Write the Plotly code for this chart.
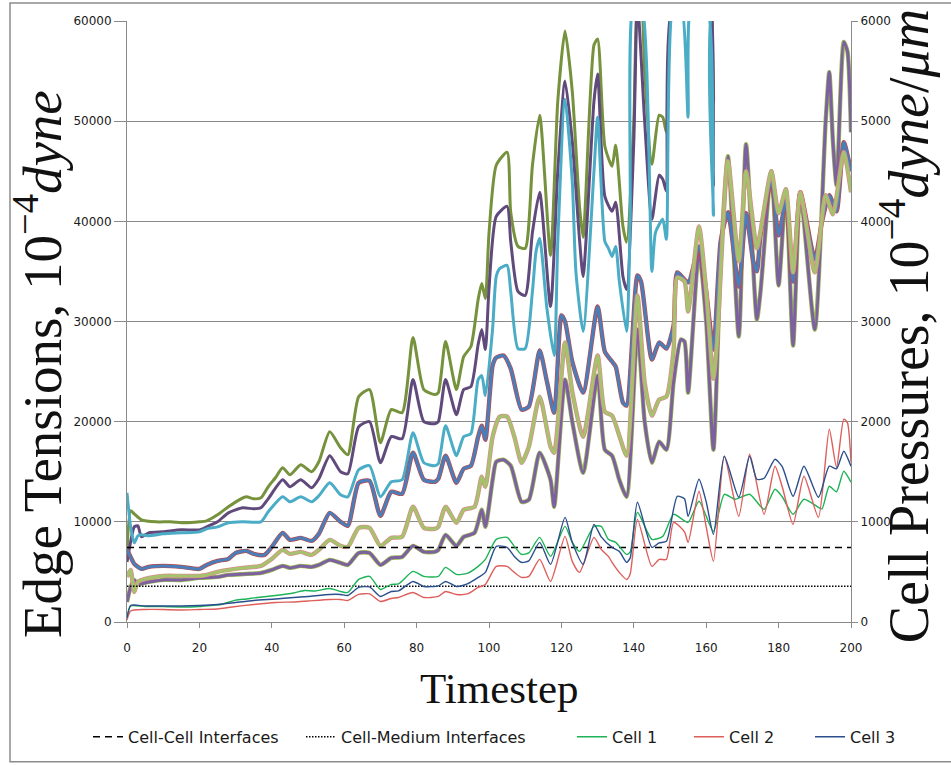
import plotly.graph_objects as go

# ---------------------------------------------------------------
# Edge tensions (left axis, 10^-4 dyne): (timestep, tension) pairs
# ---------------------------------------------------------------
edge_olive = [(0, 7000), (1, 11100), (2, 10800), (4, 10200), (8, 10000), (12, 10000), (16, 9900), (20, 10000),
              (22, 10100), (25, 10700), (28, 11500), (31, 12200), (33, 12500), (35, 12300), (37, 12400),
              (39, 13500), (41, 14400), (43, 15400), (45, 14700), (48, 15700), (51, 15000), (53, 16000),
              (56, 19000), (59, 17400), (61, 16700), (64, 22500), (67, 23200), (70, 17900), (73, 21200),
              (76, 20900), (79, 28400), (82, 23200), (85, 22700), (86, 22900), (88, 28000), (91, 23200),
              (93, 26500), (95, 27500), (97, 32200), (98, 33800), (99, 32300), (100, 38800), (102, 45600),
              (105, 46900), (106, 40900), (108, 37500), (110, 37300), (112, 45600), (114, 50600), (117, 36600),
              (119, 52000), (121, 59000), (123, 53000), (125, 41500), (126, 38400), (129, 57600), (130, 58200),
              (132, 47500), (134, 45500), (135, 47600), (137, 39500), (138, 37900), (140, 50000), (141, 62000),
              (142, 63000), (143, 55000), (145, 45700), (147, 50600), (148, 50400), (149, 48900), (151, 62000),
              (160, 65000), (162, 51900), (164, 66000), (200, 70000)]

edge_purple_hi = [(0, 6000), (1, 8000), (2, 9500), (3, 9600), (4, 8500), (6, 8900), (10, 9000), (15, 9200),
                  (20, 9200), (22, 9500), (25, 10000), (28, 10900), (32, 11400), (35, 11300), (37, 11400),
                  (39, 12300), (43, 14200), (45, 13500), (48, 14200), (51, 13400), (53, 14300), (56, 16600),
                  (59, 15000), (61, 14800), (64, 19500), (67, 20000), (70, 15900), (73, 18500), (76, 18300),
                  (79, 24200), (82, 20000), (85, 19800), (86, 20000), (88, 24200), (91, 20700), (93, 23200),
                  (95, 23500), (97, 27700), (98, 29200), (99, 27200), (100, 33300), (102, 40500), (105, 41500),
                  (106, 38000), (108, 33000), (110, 32600), (112, 38900), (114, 42900), (117, 31500),
                  (119, 45000), (121, 54000), (123, 48000), (125, 38200), (126, 34500), (129, 52000),
                  (130, 54700), (132, 42500), (134, 41000), (135, 41900), (137, 34500), (138, 33200),
                  (140, 48000), (141, 62000), (143, 50000), (145, 40200), (147, 44600), (148, 44200),
                  (149, 43000), (151, 62000), (160, 64000), (162, 43600), (164, 66000), (200, 70000)]

edge_aqua = [(0, 12900), (1, 9500), (2, 7900), (3, 8600), (4, 8700), (6, 8600), (10, 8800), (15, 8900), (20, 9000),
             (22, 9300), (25, 9500), (28, 9900), (32, 10000), (37, 10000), (39, 11000), (43, 12500), (45, 12000),
             (48, 12500), (51, 12000), (53, 12600), (56, 13900), (59, 12700), (61, 12500), (64, 15200),
             (67, 15600), (70, 12500), (73, 14000), (76, 14200), (79, 18900), (82, 15900), (85, 15600),
             (86, 15800), (88, 19600), (91, 16600), (93, 18500), (95, 18800), (97, 24200), (98, 24600),
             (99, 22600), (101, 29300), (102, 34500), (103, 35300), (105, 35600), (106, 33000), (108, 27300),
             (110, 27300), (112, 33000), (113, 37000), (114, 38300), (116, 31300), (118, 26600), (119, 38000),
             (121, 52200), (123, 44000), (124, 35000), (126, 29000), (129, 45000), (130, 50400), (132, 38000),
             (133, 37300), (134, 36500), (135, 37500), (136, 34000), (138, 29000), (139, 40000), (140, 62000),
             (142, 62000), (145, 35000), (146, 38900), (148, 40200), (149, 38200), (151, 62000), (153, 62000),
             (155, 50400), (156, 62000), (160, 62000), (162, 40600), (164, 66000), (200, 70000)]

edge_blue = [(0, 7200), (1, 6500), (2, 5800), (4, 5300), (6, 5500), (10, 5600), (15, 5500), (20, 5300), (22, 5700),
             (25, 6100), (28, 6300), (30, 6900), (33, 7100), (35, 6800), (38, 6700), (40, 7500), (43, 8900),
             (45, 8200), (48, 8400), (51, 8100), (53, 8800), (56, 10900), (59, 10000), (61, 9600), (64, 13900),
             (67, 14100), (70, 10600), (73, 13000), (76, 12800), (79, 16900), (82, 14200), (85, 14000),
             (86, 14300), (88, 16600), (91, 13900), (93, 15300), (95, 15600), (97, 18500), (98, 19600),
             (99, 18200), (101, 25600), (102, 26400), (104, 26600), (106, 25300), (109, 21200), (111, 21500),
             (114, 27100), (116, 24000), (118, 20900), (120, 30600), (121, 30000), (123, 26000), (126, 22900),
             (130, 31500), (132, 27000), (134, 26000), (135, 25500), (137, 21900), (138, 21600), (141, 34600),
             (142, 34000), (145, 26200), (147, 27900), (149, 27300), (151, 29600), (152, 34900), (155, 33900),
             (158, 37500), (160, 33000), (162, 27200), (164, 38000), (166, 40900), (169, 33500), (171, 40800),
             (173, 36000), (174, 35000), (175, 38600), (178, 44100), (180, 38600), (182, 42000), (184, 34000),
             (186, 42900), (190, 36200), (192, 40000), (194, 42600), (196, 41000), (198, 47900), (200, 45000)]

edge_lime = [(0, 4500), (1, 5200), (2, 3000), (3, 4000), (5, 4300), (10, 4600), (15, 4600), (20, 4600), (22, 4700),
             (25, 5000), (28, 5200), (32, 5400), (37, 5600), (40, 6300), (43, 7200), (45, 6800), (48, 7000),
             (51, 6700), (53, 7200), (56, 8200), (59, 7600), (61, 7500), (64, 9400), (67, 9400), (70, 7600),
             (73, 8400), (76, 8500), (79, 11500), (82, 9400), (85, 9300), (86, 9500), (88, 11500), (91, 9900),
             (93, 11200), (96, 11500), (98, 14500), (99, 13500), (101, 18500), (103, 20500), (105, 20500),
             (107, 18500), (109, 15900), (111, 17500), (114, 22500), (117, 17500), (118, 16900), (121, 27900),
             (123, 23000), (126, 18500), (130, 26600), (132, 21000), (134, 20600), (136, 18600), (138, 16600),
             (141, 32600), (143, 23900), (145, 20600), (147, 22200), (149, 22500), (151, 27200), (152, 34400),
             (154, 34000), (155, 31000), (158, 39500), (160, 33000), (162, 24300), (163, 28000), (166, 46000),
             (169, 36000), (171, 45000), (174, 37300), (175, 39000), (178, 45000), (180, 40800), (182, 43200),
             (184, 34900), (186, 42900), (190, 34900), (193, 42600), (195, 40700), (198, 46900), (200, 42900)]

edge_purple_lo = [(0, 2000), (1, 3500), (2, 4200), (3, 3800), (6, 4000), (10, 4200), (15, 4200), (20, 4400),
                  (25, 4500), (28, 4700), (33, 4800), (37, 4900), (40, 5200), (43, 5600), (45, 5400), (48, 5600),
                  (51, 5500), (53, 5700), (56, 6200), (59, 5900), (61, 5700), (64, 6900), (67, 6900), (70, 5700),
                  (73, 6400), (76, 6500), (79, 7600), (82, 7000), (85, 7000), (86, 7200), (88, 8700), (91, 7600),
                  (93, 8500), (96, 8900), (98, 11200), (99, 9500), (101, 14200), (102, 16000), (104, 16200),
                  (106, 15600), (109, 12000), (111, 12200), (114, 16900), (117, 14200), (118, 11500), (121, 24200),
                  (123, 20000), (126, 14900), (130, 24600), (132, 17200), (134, 16600), (136, 14200), (138, 12500),
                  (141, 29200), (143, 20000), (145, 15900), (147, 18000), (149, 17200), (151, 24000), (153, 28200),
                  (154, 28000), (155, 22900), (158, 37000), (160, 30000), (162, 17200), (164, 36000), (166, 46500),
                  (169, 28500), (171, 47700), (174, 30200), (175, 33000), (178, 45000), (180, 33600), (182, 43200),
                  (184, 27600), (186, 42900), (190, 29200), (193, 50000), (194, 54900), (195, 48000), (196, 43600),
                  (198, 57900), (199, 57000), (200, 48900)]

# Reference interface tensions (left axis)
interface_span = [0, 200]
cell_cell_tension = 7450
cell_medium_tension = 3580

# ---------------------------------------------------------------
# Cell pressures (right axis, 10^-4 dyne/um)
# ---------------------------------------------------------------
cell1_pressure = [(0, 30), (1, 160), (5, 155), (10, 155), (15, 150), (20, 155), (23, 165), (26, 175), (30, 218),
                  (33, 230), (36, 245), (41, 265), (46, 290), (49, 315), (52, 310), (56, 335), (59, 305), (61, 295),
                  (64, 425), (67, 455), (70, 325), (73, 375), (75, 380), (79, 505), (82, 455), (86, 455), (88, 545),
                  (91, 475), (94, 485), (97, 555), (99, 625), (102, 825), (105, 845), (107, 755), (109, 675),
                  (111, 690), (114, 845), (117, 655), (121, 955), (123, 795), (125, 705), (129, 955), (131, 955),
                  (133, 825), (135, 795), (138, 675), (139, 700), (141, 1095), (145, 825), (148, 855), (151, 1075),
                  (155, 995), (158, 1205), (162, 905), (165, 1275), (168, 1225), (172, 1275), (176, 1125),
                  (179, 1325), (181, 1250), (184, 1075), (187, 1225), (191, 1145), (192, 1130), (194, 1355),
                  (196, 1300), (198, 1505), (200, 1395)]

cell2_pressure = [(0, 20), (1, 110), (5, 125), (10, 125), (15, 120), (20, 125), (25, 130), (29, 150), (35, 175),
                  (41, 195), (46, 200), (50, 210), (56, 225), (59, 225), (61, 215), (64, 275), (67, 280), (70, 205),
                  (73, 235), (75, 245), (79, 295), (82, 245), (86, 255), (88, 305), (91, 275), (94, 280), (97, 345),
                  (99, 375), (102, 555), (105, 555), (107, 495), (109, 445), (111, 455), (114, 625), (117, 405),
                  (121, 855), (123, 605), (125, 495), (129, 845), (131, 725), (133, 655), (134, 595), (136, 495),
                  (138, 425), (139, 480), (141, 1025), (145, 555), (147, 625), (149, 625), (151, 995), (154, 900),
                  (155, 795), (158, 1305), (160, 950), (162, 605), (165, 1655), (169, 1055), (172, 1675),
                  (176, 1075), (179, 1555), (181, 1350), (184, 975), (187, 1455), (191, 1045), (194, 1925),
                  (196, 1545), (198, 2025), (199, 1990), (200, 1595)]

cell3_pressure = [(0, 40), (1, 165), (5, 160), (10, 160), (15, 160), (20, 165), (25, 175), (30, 195), (35, 215),
                  (41, 230), (46, 245), (50, 255), (56, 275), (59, 275), (61, 265), (64, 345), (67, 350), (70, 255),
                  (73, 305), (75, 310), (79, 405), (82, 355), (86, 360), (88, 405), (91, 355), (94, 380), (97, 445),
                  (99, 495), (102, 755), (105, 745), (107, 655), (109, 595), (111, 610), (114, 795), (117, 575),
                  (121, 1045), (123, 795), (126, 575), (129, 975), (131, 850), (134, 745), (136, 705), (138, 595),
                  (139, 640), (141, 1195), (145, 745), (147, 790), (149, 805), (152, 1255), (154, 1230), (155, 1055),
                  (158, 1425), (160, 1200), (162, 875), (165, 1655), (169, 1245), (172, 1655), (174, 1425),
                  (176, 1435), (179, 1625), (181, 1550), (184, 1255), (187, 1555), (191, 1245), (194, 1555),
                  (196, 1530), (198, 1705), (200, 1555)]

x_ticks = list(range(0, 201, 20))


def steps(series):
    return [p[0] for p in series]


def values(series):
    return [p[1] for p in series]


fig = go.Figure()
SMOOTH = 0.6


def edge_line(series, color, width=3.0):
    fig.add_trace(go.Scatter(
        x=steps(series), y=values(series), mode="lines",
        line=dict(color=color, width=width, shape="spline", smoothing=SMOOTH),
        showlegend=False, hoverinfo="skip", yaxis="y"))


# thick edge-tension curves (underlays give the coloured fringes of the coincident edges)
edge_line(edge_olive, "#76923C")
edge_line(edge_purple_hi, "#604A7B")
edge_line(edge_aqua, "#4BACC6")
edge_line(edge_purple_lo, "#98B954", 4.4)
edge_line(edge_purple_lo, "#7D60A0")
edge_line(edge_blue, "#BE4B48", 4.4)
edge_line(edge_blue, "#4A7EBB")
edge_line(edge_lime, "#D98F8D", 4.4)
edge_line(edge_lime, "#A5C26C")

# interface reference lines
fig.add_trace(go.Scatter(
    x=interface_span, y=[cell_cell_tension] * len(interface_span), mode="lines",
    name="Cell-Cell Interfaces", line=dict(color="black", width=1.5, dash="7px,5px"),
    legend="legend", hoverinfo="skip"))
fig.add_trace(go.Scatter(
    x=interface_span, y=[cell_medium_tension] * len(interface_span), mode="lines",
    name="Cell-Medium Interfaces", line=dict(color="black", width=1.5, dash="1.5px,1.5px"),
    legend="legend2", hoverinfo="skip"))

# cell pressures on the secondary axis
for series, name, color, lg in [(cell1_pressure, "Cell 1", "#1DB356", "legend3"),
                                (cell2_pressure, "Cell 2", "#DD5F5B", "legend4"),
                                (cell3_pressure, "Cell 3", "#2B4F8C", "legend5")]:
    fig.add_trace(go.Scatter(
        x=steps(series), y=values(series), mode="lines", name=name,
        line=dict(color=color, width=1.4, shape="spline", smoothing=SMOOTH),
        yaxis="y2", legend=lg, hoverinfo="skip"))

AXIS_GREY = "#8A8A8A"
TICK_FONT = dict(family="DejaVu Sans", size=12, color="#1a1a1a")
LEGEND_FONT = dict(family="DejaVu Sans", size=16, color="#1a1a1a")


def legend_box(x):
    return dict(x=x, y=-0.189, xanchor="left", yanchor="middle", orientation="h",
                font=LEGEND_FONT, bgcolor="rgba(0,0,0,0)", borderwidth=0)


fig.update_layout(
    width=951, height=765,
    margin=dict(l=127, r=100, t=21, b=142),
    paper_bgcolor="white", plot_bgcolor="white",
    xaxis=dict(range=[0, 200], tickvals=x_ticks, ticks="outside", ticklen=5, tickcolor=AXIS_GREY,
               showline=True, linecolor=AXIS_GREY, linewidth=1, showgrid=False, zeroline=False,
               tickfont=TICK_FONT, ticklabelstandoff=10),
    yaxis=dict(range=[0, 60000], dtick=10000, tickformat="d", ticks="outside", ticklen=12,
               tickcolor=AXIS_GREY, showline=True, linecolor=AXIS_GREY, linewidth=1,
               showgrid=True, gridcolor=AXIS_GREY, gridwidth=1, zeroline=False, tickfont=TICK_FONT),
    yaxis2=dict(range=[0, 6000], dtick=1000, tickformat="d", overlaying="y", side="right",
                ticks="outside", ticklen=6, tickcolor=AXIS_GREY, showline=True, linecolor=AXIS_GREY,
                linewidth=1, showgrid=False, zeroline=False, tickfont=TICK_FONT),
    legend=legend_box(-0.0539),
    legend2=legend_box(0.2403),
    legend3=legend_box(0.6146),
    legend4=legend_box(0.7762),
    legend5=legend_box(0.9434),
    annotations=[
        dict(text="Timestep", x=0.515, y=-0.11, xref="paper", yref="paper", showarrow=False,
             xanchor="center", yanchor="middle",
             font=dict(family="Liberation Serif", size=43, color="#111")),
        dict(text="Edge Tensions, 10<sup>\u22124</sup><i>dyne</i>", x=-0.122, y=0.4286,
             xref="paper", yref="paper", showarrow=False, textangle=-90,
             xanchor="center", yanchor="middle",
             font=dict(family="Liberation Serif", size=55, color="#111")),
        dict(text="Cell Pressures, 10<sup>\u22124</sup><i>dyne</i>/<i>\u03bcm</i>", x=1.0746, y=0.492,
             xref="paper", yref="paper", showarrow=False, textangle=-90,
             xanchor="center", yanchor="middle",
             font=dict(family="Liberation Serif", size=56, color="#111")),
    ],
    shapes=[dict(type="rect", xref="paper", yref="paper", x0=-0.1616, x1=1.1395, y0=-0.2326, y1=1.0299,
                 line=dict(color="#8C8C8C", width=1.5), layer="below")],
)

fig.write_html("out.html")
